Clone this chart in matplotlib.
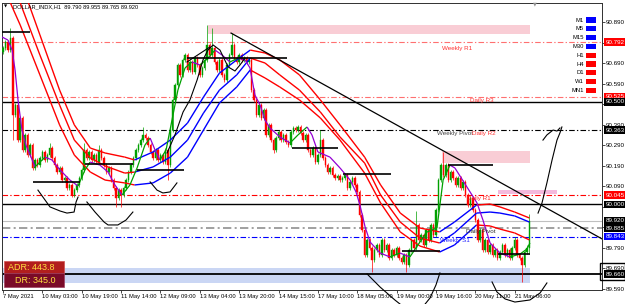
import numpy as np
import matplotlib.pyplot as plt
from matplotlib.collections import LineCollection
from matplotlib.patches import Rectangle
from matplotlib.transforms import blended_transform_factory

plt.rcParams['font.family'] = ['Liberation Sans', 'DejaVu Sans']

# DOLLAR_INDX H1 closes, one per bar (7 May - 21 May 2021)
first_open = 90.745
closes = [
    90.763, 90.792, 90.753, 90.812, 90.436, 90.485, 90.314, 90.422, 90.266, 90.339,
    90.241, 90.290, 90.178, 90.217, 90.192, 90.227, 90.256, 90.217, 90.241, 90.275,
    90.227, 90.192, 90.158, 90.178, 90.119, 90.129, 90.080, 90.095, 90.046, 90.070,
    90.095, 90.129, 90.168, 90.266, 90.227, 90.256, 90.217, 90.241, 90.207, 90.266,
    90.227, 90.192, 90.158, 90.178, 90.119, 90.080, 90.031, 90.070, 90.046, 90.080,
    90.119, 90.158, 90.192, 90.227, 90.266, 90.290, 90.314, 90.339, 90.324, 90.290,
    90.256, 90.227, 90.266, 90.217, 90.241, 90.207, 90.266, 90.192, 90.363, 90.510,
    90.583, 90.680, 90.632, 90.705, 90.729, 90.656, 90.695, 90.646, 90.714, 90.680,
    90.632, 90.666, 90.705, 90.778, 90.729, 90.763, 90.695, 90.656, 90.705, 90.632,
    90.607, 90.680, 90.729, 90.778, 90.714, 90.695, 90.729, 90.705, 90.714, 90.695,
    90.705, 90.558, 90.510, 90.436, 90.485, 90.422, 90.461, 90.339, 90.388, 90.314,
    90.266, 90.324, 90.353, 90.314, 90.339, 90.305, 90.290, 90.353, 90.373, 90.363,
    90.378, 90.349, 90.314, 90.339, 90.266, 90.241, 90.275, 90.207, 90.241, 90.314,
    90.227, 90.192, 90.158, 90.178, 90.144, 90.129, 90.139, 90.119, 90.129, 90.144,
    90.080, 90.110, 90.129, 90.095, 90.061, 89.948, 89.875, 89.753, 89.827, 89.788,
    89.729, 89.778, 89.802, 89.753, 89.827, 89.778, 89.802, 89.739, 89.778, 89.753,
    89.788, 89.739, 89.719, 89.753, 89.705, 89.778, 89.827, 89.788, 89.900, 89.827,
    89.851, 89.802, 89.875, 89.827, 89.900, 89.851, 89.973, 90.119, 90.192, 90.144,
    90.192, 90.119, 90.158, 90.129, 90.095, 90.129, 90.080, 90.110, 90.046, 89.997,
    90.031, 89.973, 89.924, 89.827, 89.875, 89.778, 89.827, 89.768, 89.802, 89.753,
    89.778, 89.739, 89.768, 89.802, 89.753, 89.778, 89.739, 89.788, 89.827, 89.753,
    89.739, 89.705, 89.768, 89.790, 89.920,
]
# long wicks
high_bars = [3, 19, 33, 39, 57, 83, 85, 93, 120, 129, 168, 179, 208, 214]
high_vals = [90.861, 90.300, 90.300, 90.290, 90.378, 90.875, 90.861, 90.836, 90.388, 90.363,
             89.968, 90.256, 89.841, 89.955]
low_bars = [4, 46, 48, 67, 110, 150, 164, 211, 214]
low_vals = [90.314, 89.988, 89.988, 90.119, 90.251, 89.671, 89.671, 89.622, 89.765]

# moving-average ribbon (bar position, price) and trend colour per segment
rib_x = [-0.4, 7, 15, 23, 29, 35.5, 41.5, 49.5, 53.5, 61, 68, 75, 81.5, 88, 95, 100.5,
         106.5, 112.5, 120.5, 129, 137, 147, 153.5, 161.5, 169.5, 177.5, 183.5, 192.5,
         198, 202, 208, 214]
rib_top = [91.349, 91.095, 90.827, 90.558, 90.388, 90.275, 90.251, 90.231, 90.217, 90.256,
           90.314, 90.397, 90.524, 90.641, 90.705, 90.753, 90.739, 90.705, 90.632, 90.510,
           90.388, 90.231, 90.095, 89.958, 89.885, 89.866, 89.914, 89.997, 90.002, 89.988,
           89.963, 89.934]
rib_mid = [91.202, 90.983, 90.729, 90.485, 90.314, 90.227, 90.188, 90.153, 90.158, 90.183,
           90.231, 90.314, 90.446, 90.558, 90.632, 90.714, 90.690, 90.632, 90.558, 90.451,
           90.329, 90.202, 90.046, 89.914, 89.836, 89.812, 89.861, 89.958, 89.963, 89.958,
           89.944, 89.914]
rib_bot = [91.075, 90.875, 90.632, 90.388, 90.241, 90.158, 90.119, 90.105, 90.095, 90.105,
           90.153, 90.231, 90.363, 90.495, 90.573, 90.656, 90.617, 90.573, 90.510, 90.422,
           90.314, 90.153, 90.007, 89.866, 89.797, 89.768, 89.802, 89.900, 89.895, 89.880,
           89.861, 89.827]
rib_trend = "ddddddddUUUUUUUddddddddddUUdddd"
mid_trend = "ddddddddUUUUUUUddddddddddUUUUUU"

# fast moving average
fast_x = [-0.4, 2.0, 3.7, 4.9, 6.1, 7.7, 9.3, 11.4, 13.0, 17.1, 19.9, 23.2, 27.2, 30.5, 33.3,
          35.4, 39.4, 42.7, 45.5, 48.4, 51.6, 54.5, 57.7, 59.8, 61.8, 63.8, 66.3, 68.7, 71.1,
          74.0, 76.8, 80.1, 83.3, 86.2, 89.0, 92.3, 95.5, 98.4, 100.4, 102.4, 104.5, 106.5,
          108.5, 112.6, 116.7, 119.9, 123.6, 125.6, 128.0, 132.9, 137.0, 141.1, 143.5, 145.1,
          147.2, 149.2, 153.3, 157.3, 161.4, 165.4, 169.5, 172.4, 176.4, 177.6, 178.9, 181.7,
          183.7, 188.6, 192.7, 195.1, 198.0, 202.0, 206.1, 210.2, 213.0, 214.2]
fast_y = [90.817, 90.802, 90.753, 90.656, 90.510, 90.363, 90.290, 90.231, 90.183, 90.231,
          90.217, 90.168, 90.119, 90.090, 90.168, 90.207, 90.192, 90.158, 90.095, 90.046,
          90.095, 90.178, 90.290, 90.324, 90.266, 90.217, 90.266, 90.412, 90.558, 90.666,
          90.695, 90.680, 90.714, 90.753, 90.729, 90.695, 90.714, 90.705, 90.666, 90.534,
          90.485, 90.412, 90.373, 90.329, 90.300, 90.339, 90.378, 90.339, 90.256, 90.231,
          90.178, 90.119, 90.061, 89.997, 89.890, 89.817, 89.763, 89.744, 89.763, 89.744,
          89.817, 89.866, 89.885, 89.997, 90.119, 90.192, 90.178, 90.085, 90.007, 89.924,
          89.812, 89.763, 89.744, 89.758, 89.783, 89.812]

# support / resistance segments (start bar, end bar, price)
seg_start = [-0.4, 12.2, 33.3, 54.5, 74.8, 117.5, 138.2, 162.2, 180.9, 201.2]
seg_end = [11.0, 31.3, 52.8, 73.6, 115.4, 136.2, 157.7, 177.6, 199.2, 214.2]
seg_price = [90.841, 90.110, 90.198, 90.168, 90.714, 90.275, 90.149, 89.773, 90.192, 89.758]

trend_x = [92.7, 243.5]
trend_y = [90.836, 89.832]

# pivot levels
lvl_price = [90.792, 90.525, 90.363, 90.045, 89.885, 89.843]
lvl_color = ['#ff7070', '#ff7070', '#000000', '#ff0000', '#909090', '#0000ff']
lvl_name = ['Weekly R1', 'Daily R3', 'Weekly Pivot', 'Daily R1', 'Daily Pivot', 'Weekly S1']
lvl_txt_x = [178.5, 190.0, 176.4, 188.6, 188.2, 177.6]
lvl_txt_y = [90.763, 90.505, 90.344, 90.027, 89.866, 89.822]
lvl_txt_c = ['#ff3030', '#ff3030', '#404040', '#ff2020', '#303030', '#2020ff']
solid_levels = [90.500, 90.000, 89.660]
bid = 89.920

# zones (x0, x1, low, high, colour)
zone_x0 = [83.3, 178.5, 201.2, -0.4]
zone_x1 = [214.2, 214.2, 225.2, 214.2]
zone_lo = [90.831, 90.202, 90.051, 89.617]
zone_hi = [90.875, 90.261, 90.070, 89.690]
zone_col = ['#f9cdd5', '#f9cdd5', '#f4b9dc', '#cad6f4']

# hand drawn marks (bar, price)
draw_x = [
    [14.2, 19.1, 23.2, 26.0, 28.9, 29.7, 30.5],
    [34.1, 37.4, 41.1, 42.7, 46.7, 50.0, 52.8],
    [59.8, 62.6, 65.0, 67.9, 70.7],
    [66.7, 69.9, 73.2, 76.0, 78.9, 81.3, 83.3, 85.4, 88.2, 91.5, 94.3, 96.3, 98.4],
    [74.8, 84.1],
    [148.0, 153.3, 159.3, 163.4],
    [170.3, 173.6, 176.0, 177.6],
    [198.8, 200.8, 204.1, 208.1, 214.2, 218.3, 221.1],
    [217.5, 219.1, 221.1, 223.2, 225.2, 226.4, 227.2],
    [219.5, 221.1, 223.6, 225.2, 226.4],
]
draw_y = [
    [90.070, 89.988, 89.968, 89.958, 89.963, 90.012, 90.036],
    [90.012, 89.963, 89.914, 89.900, 89.900, 89.924, 89.963],
    [90.110, 90.070, 90.056, 90.061, 90.105],
    [90.251, 90.339, 90.451, 90.510, 90.607, 90.705, 90.753, 90.778, 90.753, 90.671, 90.651,
     90.680, 90.714],
    [90.695, 90.768],
    [89.661, 89.597, 89.534, 89.495],
    [89.495, 89.544, 89.607, 89.666],
    [89.622, 89.573, 89.539, 89.524, 89.534, 89.568, 89.617],
    [89.958, 90.007, 90.105, 90.217, 90.314, 90.349, 90.378],
    [90.314, 90.339, 90.363, 90.358, 90.373],
]

date_bars = list(range(0, 209, 16))
date_labels = ['7 May 2021', '10 May 03:00', '10 May 19:00', '11 May 14:00', '12 May 09:00',
               '13 May 04:00', '13 May 20:00', '14 May 15:00', '17 May 10:00', '18 May 05:00',
               '19 May 00:00', '19 May 16:00', '20 May 11:00', '21 May 06:00']

price_ticks = [89.59, 89.69, 89.79, 89.89, 89.99, 90.09, 90.19, 90.29, 90.39, 90.49, 90.59,
               90.69, 90.79, 90.89]
price_tick_labels = ['89.590', '89.690', '89.790', '', '', '90.090', '90.190', '90.290',
                     '90.390', '', '90.590', '90.690', '', '90.890']

box_price = [90.792, 90.525, 90.500, 90.363, 90.045, 90.000, 89.920, 89.885, 89.843, 89.660]
box_color = ['#ff0000', '#ff0000', '#000000', '#000000', '#ff0000', '#000000', '#000000',
             '#000000', '#0000ff', '#000000']

tf_names = ['M1', 'M5', 'M15', 'M30', 'H1', 'H4', 'D1', 'W1', 'MN1']
tf_colors = ['#0000ff'] * 4 + ['#ff0000'] * 5

fig = plt.figure(figsize=(6.25, 3.04), dpi=100)
ax = fig.add_axes([2 / 625, 14 / 304, 600 / 625, 287 / 304])
ax.set_xlim(-0.41, 243.5)
ax.set_ylim(89.5827, 90.9827)

for x0, x1, lo, hi, c in zip(zone_x0, zone_x1, zone_lo, zone_hi, zone_col):
    ax.add_patch(Rectangle((x0, lo), x1 - x0, hi - lo, facecolor=c, edgecolor='none', zorder=0))

dashdot = (0, (5, 2, 1.2, 2))
for p, c in zip(lvl_price, lvl_color):
    lw = 1.2 if c == '#909090' else 0.8
    ax.axhline(p, color=c, lw=lw, ls=dashdot, zorder=1)
ax.axhline(bid, color='#c0c0c0', lw=0.8, zorder=1)
for p in solid_levels:
    ax.axhline(p, color='black', lw=1.0 if p != 89.660 else 1.3, zorder=1)
for name, tx, ty, tc in zip(lvl_name, lvl_txt_x, lvl_txt_y, lvl_txt_c):
    ax.text(tx, ty, name, color=tc, fontsize=4.5, va='center', ha='left', zorder=6)
ax.text(190.5, 90.344, 'Daily R2', color='#ff3030', fontsize=4.5, va='center', ha='left', zorder=6)

# candles
opens = [first_open] + closes[:-1]
highs = [max(o, c) + 0.01 for o, c in zip(opens, closes)]
lows = [min(o, c) - 0.01 for o, c in zip(opens, closes)]
for b, v in zip(high_bars, high_vals):
    highs[b] = v
for b, v in zip(low_bars, low_vals):
    lows[b] = v
xs = np.arange(len(closes))
cols = ['#00a000' if c >= o else '#ff0000' for o, c in zip(opens, closes)]
ax.vlines(xs, lows, highs, colors=cols, lw=0.5, zorder=3)
ax.bar(xs, np.array(closes) - np.array(opens), bottom=opens, width=0.6, color=cols,
       edgecolor=cols, linewidth=0.3, zorder=3)


def colored_line(x, y, trend, up, down, lw):
    pts = np.column_stack([x, y])
    segs = np.stack([pts[:-1], pts[1:]], axis=1)
    lc = LineCollection(segs, colors=[up if t == 'U' else down for t in trend], linewidths=lw, zorder=4)
    ax.add_collection(lc)


colored_line(rib_x, rib_top, rib_trend, '#0000ff', '#ff0000', 1.0)
colored_line(rib_x, rib_mid, mid_trend, '#0000ff', '#ff0000', 1.0)
colored_line(rib_x, rib_bot, rib_trend, '#0000ff', '#ff0000', 1.0)
fast_trend = ['U' if b > a else 'd' for a, b in zip(fast_y[:-1], fast_y[1:])]
colored_line(fast_x, fast_y, fast_trend, '#00a000', '#9400d3', 0.9)

ax.hlines(seg_price, seg_start, seg_end, colors='black', lw=1.2, zorder=5)
ax.plot(trend_x, trend_y, color='black', lw=0.9, zorder=5)
for dx, dy in zip(draw_x, draw_y):
    ax.plot(dx, dy, color='black', lw=0.8, zorder=6, clip_on=False)

# axes look
for s in ax.spines.values():
    s.set_linewidth(0.7)
    s.set_color('#303030')
ax.yaxis.tick_right()
ax.set_yticks(price_ticks)
ax.set_yticklabels(price_tick_labels)
ax.tick_params(axis='y', direction='out', length=2, width=0.5, labelsize=4.5, pad=1)
ax.set_xticks(date_bars)
ax.set_xticklabels(date_labels)
ax.tick_params(axis='x', direction='out', length=2, width=0.5, labelsize=4.2, pad=1)
for lbl in ax.get_xticklabels():
    lbl.set_ha('left')

tr = blended_transform_factory(ax.transAxes, ax.transData)
for p, c in zip(box_price, box_color):
    ax.text(1.006, p, '%.3f' % p, transform=tr, color='white', fontsize=4.5, va='center',
            ha='left', clip_on=False, zorder=7,
            bbox=dict(boxstyle='square,pad=0.2', facecolor=c, edgecolor='none'))
fig.add_artist(Rectangle((600 / 625, 1 - 280 / 304), 25 / 625, 17 / 304, transform=fig.transFigure,
                         facecolor='none', edgecolor='black', lw=1.0))

# header and panels
fig.text(4 / 625, 1 - 7 / 304, '\u25bc', fontsize=3, color='black', va='center', family='DejaVu Sans')
fig.text(13 / 625, 1 - 7 / 304, 'DOLLAR_INDX,H1  89.790 89.955 89.765 89.920', fontsize=4.1,
         va='center', ha='left')
fig.text(535 / 625, 1 - 4 / 304, '\u25bc', fontsize=3.5, color='#909090', va='center', ha='center',
         family='DejaVu Sans')
for i, (n, c) in enumerate(zip(tf_names, tf_colors)):
    yp = 20 + 8.8 * i
    fig.text(584 / 625, 1 - yp / 304, n, fontsize=4.2, ha='right', va='center')
    fig.add_artist(Rectangle((586 / 625, 1 - (yp + 2.5) / 304), 10 / 625, 5 / 304,
                             transform=fig.transFigure, facecolor=c, edgecolor='none'))

fig.add_artist(Rectangle((4 / 625, 1 - 273 / 304), 60 / 625, 12 / 304, transform=fig.transFigure,
                         facecolor='#b21e1e', edgecolor='#d05050', lw=0.5))
fig.add_artist(Rectangle((4 / 625, 1 - 287 / 304), 60 / 625, 14 / 304, transform=fig.transFigure,
                         facecolor='#7a0a28', edgecolor='#a04060', lw=0.5))
fig.text(31 / 625, 1 - 267 / 304, 'ADR: 443.8', fontsize=6.5, color='#ffe040', ha='center', va='center')
fig.text(35 / 625, 1 - 280.5 / 304, 'DR: 345.0', fontsize=6.5, color='#ffe040', ha='center', va='center')

fig.savefig('out.png', dpi=100, facecolor='white')
